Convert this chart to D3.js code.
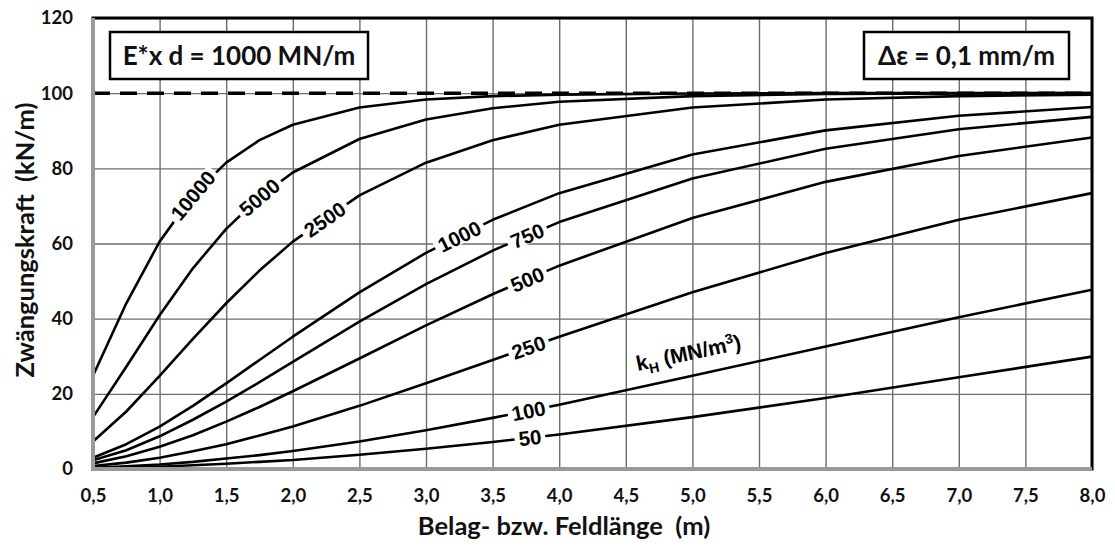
<!DOCTYPE html>
<html>
<head>
<meta charset="utf-8">
<script src="https://cdn.jsdelivr.net/npm/d3@7"></script>
<style>
  body { margin: 0; background: #fff; }
  svg { display: block; }
</style>
</head>
<body>
<svg id="chart" width="1115" height="548"></svg>
<script>
// Span length (m) at which each curve is sampled
const lengths = [0.5, 0.75, 1.0, 1.25, 1.5, 1.75, 2.0, 2.5, 3.0, 3.5, 4.0, 5.0, 6.0, 7.0, 8.0];

// Restraint force (kN/m) for each bedding modulus kH (MN/m³)
const kH10000 = [24.8, 44.1, 60.5, 72.8, 81.5, 87.5, 91.6, 96.2, 98.3, 99.2, 99.6, 99.9, 100, 100, 100];
const kH5000  = [13.8, 27.2, 40.9, 53.4, 63.9, 72.3, 78.9, 87.8, 93.0, 96.0, 97.7, 99.2, 99.8, 99.9, 100];
const kH2500  = [7.3, 15.3, 24.8, 34.6, 44.1, 52.8, 60.5, 72.8, 81.5, 87.5, 91.6, 96.2, 98.3, 99.2, 99.6];
const kH1000  = [3.0, 6.6, 11.3, 16.8, 22.8, 29.0, 35.2, 47.0, 57.5, 66.3, 73.4, 83.7, 90.1, 94.0, 96.3];
const kH750   = [2.3, 5.0, 8.7, 13.1, 17.9, 23.1, 28.5, 39.2, 49.2, 58.1, 65.7, 77.3, 85.2, 90.4, 93.7];
const kH500   = [1.5, 3.4, 5.9, 9.0, 12.6, 16.5, 20.7, 29.4, 38.2, 46.5, 54.1, 66.8, 76.4, 83.3, 88.2];
const kH250   = [0.8, 1.7, 3.0, 4.7, 6.6, 8.9, 11.3, 16.8, 22.8, 29.0, 35.2, 47.0, 57.5, 66.3, 73.4];
const kH100   = [0.3, 0.7, 1.2, 1.9, 2.8, 3.7, 4.8, 7.3, 10.3, 13.6, 17.1, 24.8, 32.6, 40.4, 47.7];
const kH50    = [0.2, 0.4, 0.6, 1.0, 1.4, 1.9, 2.4, 3.8, 5.4, 7.2, 9.2, 13.8, 18.9, 24.4, 29.9];

const curveNames  = ["10000", "5000", "2500", "1000", "750", "500", "250", "100", "50"];
const curveValues = [kH10000, kH5000, kH2500, kH1000, kH750, kH500, kH250, kH100, kH50];
// Span length at which each curve carries its inline label
const labelAt     = [1.25, 1.75, 2.24, 3.25, 3.76, 3.76, 3.77, 3.77, 3.78];

const limitForce = 100;
const xTicks = [0.5, 1.0, 1.5, 2.0, 2.5, 3.0, 3.5, 4.0, 4.5, 5.0, 5.5, 6.0, 6.5, 7.0, 7.5, 8.0];
const yTicks = [0, 20, 40, 60, 80, 100, 120];

const svg = d3.select("#chart");
const plotLeft = 93, plotRight = 1092, plotTop = 18, plotBottom = 469;

const x = d3.scaleLinear().domain([0.5, 8.0]).range([plotLeft, plotRight]);
const y = d3.scaleLinear().domain([0, 120]).range([plotBottom, plotTop]);

const tickFont = "Lato, 'Open Sans', sans-serif";
const labelFont = "'Liberation Sans', Arial, sans-serif";

// Grid lines
const gridX = svg.append("g")
  .attr("transform", `translate(0,${plotBottom})`)
  .call(d3.axisBottom(x).tickValues(xTicks).tickSize(-(plotBottom - plotTop)).tickFormat(""));
const gridY = svg.append("g")
  .attr("transform", `translate(${plotLeft},0)`)
  .call(d3.axisLeft(y).tickValues(yTicks).tickSize(-(plotRight - plotLeft)).tickFormat(""));
[gridX, gridY].forEach(g => {
  g.select(".domain").remove();
  g.selectAll("line").attr("stroke", "#6e6e6e").attr("stroke-width", 1.4);
});

// Plot frame
svg.append("rect")
  .attr("x", plotLeft).attr("y", plotTop)
  .attr("width", plotRight - plotLeft).attr("height", plotBottom - plotTop)
  .attr("fill", "none").attr("stroke", "#000").attr("stroke-width", 3);

// Limit line at full restraint
svg.append("line")
  .attr("x1", x(0.5)).attr("x2", x(8.0))
  .attr("y1", y(limitForce)).attr("y2", y(limitForce))
  .attr("stroke", "#000").attr("stroke-width", 3.5)
  .attr("stroke-dasharray", "17,10");

// Curves
const line = d3.line()
  .x((d, i) => x(lengths[i]))
  .y(d => y(d))
  .curve(d3.curveLinear);

svg.append("g").selectAll("path")
  .data(curveValues)
  .join("path")
  .attr("d", line)
  .attr("fill", "none")
  .attr("stroke", "#000")
  .attr("stroke-width", 2.6)
  .attr("stroke-linejoin", "round");

// Axis lines (grey, Excel style)
svg.append("line")
  .attr("x1", plotLeft).attr("x2", plotRight).attr("y1", plotBottom).attr("y2", plotBottom)
  .attr("stroke", "#9a9a9a").attr("stroke-width", 4);
svg.append("line")
  .attr("x1", plotLeft).attr("x2", plotLeft).attr("y1", plotTop).attr("y2", plotBottom + 2)
  .attr("stroke", "#9a9a9a").attr("stroke-width", 4);

// Inline curve labels
function valueAt(vals, L) {
  return d3.scaleLinear().domain(lengths).range(vals)(L);
}
const labels = svg.append("g");
curveValues.forEach((vals, i) => {
  const L = labelAt[i];
  const px = x(L), py = y(valueAt(vals, L));
  const x0 = x(L - 0.15), y0 = y(valueAt(vals, L - 0.15));
  const x1 = x(L + 0.15), y1 = y(valueAt(vals, L + 0.15));
  const angle = Math.atan2(y1 - y0, x1 - x0) * 180 / Math.PI;
  const g = labels.append("g").attr("transform", `translate(${px},${py}) rotate(${angle})`);
  const bg = g.append("rect").attr("fill", "#fff");
  const t = g.append("text")
    .attr("text-anchor", "middle")
    .attr("dy", "0.36em")
    .attr("font-family", labelFont)
    .attr("font-weight", "bold")
    .attr("font-size", 20.5)
    .attr("fill", "#000")
    .text(curveNames[i]);
  const w = t.node().getComputedTextLength();
  bg.attr("x", -w / 2 - 4).attr("y", -8).attr("width", w + 8).attr("height", 16);
});

// Unit label for the curve family
const kx = 690, ky = 360;
const kText = svg.append("text")
  .attr("transform", `translate(${kx},${ky}) rotate(-12)`)
  .attr("text-anchor", "middle")
  .attr("font-family", labelFont)
  .attr("font-weight", "bold")
  .attr("font-size", 21)
  .attr("fill", "#000");
kText.append("tspan").text("k");
kText.append("tspan").attr("font-size", 14).attr("dy", 5).text("H");
kText.append("tspan").attr("dy", -5).text(" (MN/m");
kText.append("tspan").attr("font-size", 14).attr("dy", -8).text("3");
kText.append("tspan").attr("dy", 8).text(")");

// Tick labels
const fmt = d => d.toFixed(1).replace(".", ",");
const xAxis = svg.append("g")
  .attr("transform", `translate(0,${plotBottom})`)
  .call(d3.axisBottom(x).tickValues(xTicks).tickSize(0).tickPadding(20).tickFormat(fmt));
const yAxis = svg.append("g")
  .attr("transform", `translate(${plotLeft},0)`)
  .call(d3.axisLeft(y).tickValues(yTicks).tickSize(0).tickPadding(20).tickFormat(d3.format("d")));
[xAxis, yAxis].forEach(g => {
  g.select(".domain").remove();
  g.selectAll("text")
    .attr("font-family", tickFont)
    .attr("font-weight", "bold")
    .attr("font-size", 18.5)
    .attr("fill", "#111");
});

// Axis titles
svg.append("text")
  .attr("x", 564).attr("y", 535)
  .attr("text-anchor", "middle")
  .attr("font-family", tickFont).attr("font-weight", "bold").attr("font-size", 25.5)
  .attr("fill", "#111")
  .attr("xml:space", "preserve")
  .text("Belag- bzw. Feldlänge  (m)");
svg.append("text")
  .attr("transform", `translate(34,240) rotate(-90)`)
  .attr("text-anchor", "middle")
  .attr("font-family", tickFont).attr("font-weight", "bold").attr("font-size", 25.5)
  .attr("fill", "#111")
  .attr("xml:space", "preserve")
  .text("Zwängungskraft  (kN/m)");

// Parameter boxes
function infoBox(bx, by, bw, bh, txt) {
  svg.append("rect")
    .attr("x", bx).attr("y", by).attr("width", bw).attr("height", bh)
    .attr("fill", "#fff").attr("stroke", "#000").attr("stroke-width", 2.5);
  svg.append("text")
    .attr("x", bx + bw / 2).attr("y", by + bh / 2)
    .attr("dy", "0.36em")
    .attr("text-anchor", "middle")
    .attr("font-family", tickFont).attr("font-weight", "bold").attr("font-size", 26)
    .attr("fill", "#111")
    .text(txt);
}
infoBox(110, 32, 258, 47, "E*x d = 1000 MN/m");
infoBox(864, 32, 205, 47, "Δε = 0,1 mm/m");
</script>
</body>
</html>
